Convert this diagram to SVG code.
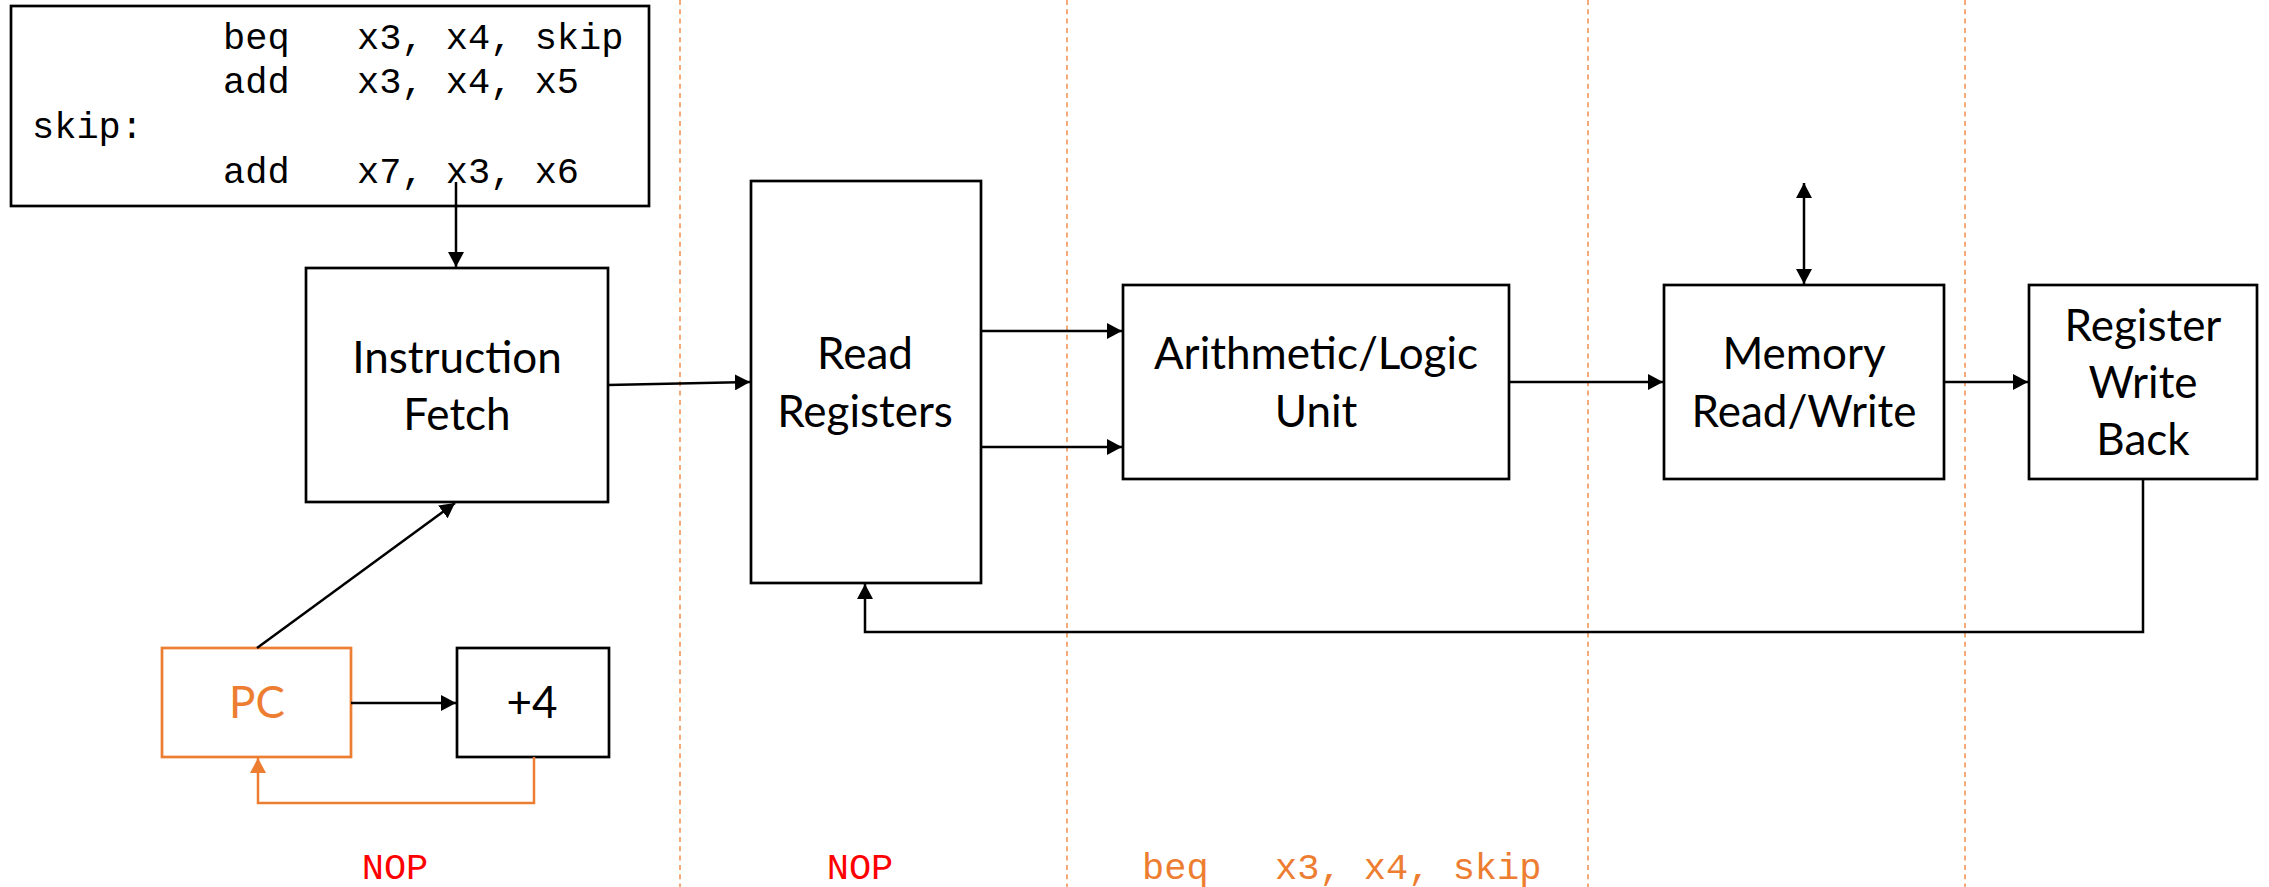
<svg xmlns="http://www.w3.org/2000/svg" width="2269" height="887" viewBox="0 0 2269 887">
  <style>
    .box { fill: #ffffff; stroke: #000000; stroke-width: 2.7; }
    .pcbox { fill: #ffffff; stroke: #ED7D31; stroke-width: 2.7; }
    .lbl { font-family: Lato, "Open Sans", "DejaVu Sans", sans-serif; font-size: 44px; fill: #000000; text-anchor: middle; }
    .code { font-family: "Liberation Mono", "Courier New", monospace; font-size: 37px; fill: #000000; }
    .stage { stroke: #ED7D31; stroke-width: 1.3; stroke-dasharray: 5 4.3; fill: none; }
    .wire { stroke: #000000; stroke-width: 2.5; fill: none; }
    .wire-o { stroke: #ED7D31; stroke-width: 2.5; fill: none; }
  </style>
  <defs>
    <marker id="ah" markerUnits="userSpaceOnUse" markerWidth="16" markerHeight="16" refX="15" refY="8" orient="auto-start-reverse">
      <path d="M0,0 L15,8 L0,16 z" fill="#000000"/>
    </marker>
    <marker id="ah-o" markerUnits="userSpaceOnUse" markerWidth="16" markerHeight="16" refX="15" refY="8" orient="auto">
      <path d="M0,0 L15,8 L0,16 z" fill="#ED7D31"/>
    </marker>
  </defs>

  <rect width="2269" height="887" fill="#ffffff"/>

  <!-- pipeline stage boundaries -->
  <g id="stage-lines">
    <line class="stage" x1="680" y1="0" x2="680" y2="887"/>
    <line class="stage" x1="1067" y1="0" x2="1067" y2="887"/>
    <line class="stage" x1="1588" y1="0" x2="1588" y2="887"/>
    <line class="stage" x1="1965" y1="0" x2="1965" y2="887"/>
  </g>

  <!-- program listing -->
  <g id="program">
    <rect class="box" x="11" y="6" width="638" height="200"/>
    <text class="code" x="223" y="49">beq</text>
    <text class="code" x="357" y="49">x3, x4, skip</text>
    <text class="code" x="223" y="93">add</text>
    <text class="code" x="357" y="93">x3, x4, x5</text>
    <text class="code" x="32" y="138">skip:</text>
    <text class="code" x="223" y="183">add</text>
    <text class="code" x="357" y="183">x7, x3, x6</text>
  </g>

  <g id="instruction-fetch">
    <rect class="box" x="306" y="268" width="302" height="234"/>
    <text class="lbl" x="457" y="373">Instruction</text>
    <text class="lbl" x="457" y="430">Fetch</text>
  </g>

  <g id="pc">
    <rect class="pcbox" x="162" y="648" width="189" height="109"/>
    <text class="lbl" x="257" y="718" style="fill:#ED7D31">PC</text>
  </g>

  <g id="plus4">
    <rect class="box" x="457" y="648" width="152" height="109"/>
    <text class="lbl" x="532" y="718">+4</text>
  </g>

  <g id="read-registers">
    <rect class="box" x="751" y="181" width="230" height="402"/>
    <text class="lbl" x="865" y="369">Read</text>
    <text class="lbl" x="865" y="427">Registers</text>
  </g>

  <g id="alu">
    <rect class="box" x="1123" y="285" width="386" height="194"/>
    <text class="lbl" x="1316" y="369">Arithmetic/Logic</text>
    <text class="lbl" x="1316" y="427">Unit</text>
  </g>

  <g id="memory">
    <rect class="box" x="1664" y="285" width="280" height="194"/>
    <text class="lbl" x="1804" y="369">Memory</text>
    <text class="lbl" x="1804" y="427">Read/Write</text>
  </g>

  <g id="write-back">
    <rect class="box" x="2029" y="285" width="228" height="194"/>
    <text class="lbl" x="2143" y="341">Register</text>
    <text class="lbl" x="2143" y="398">Write</text>
    <text class="lbl" x="2143" y="455">Back</text>
  </g>

  <!-- instructions occupying each stage -->
  <g id="stage-contents">
    <text class="code" x="395" y="879" text-anchor="middle" style="fill:#FF0000">NOP</text>
    <text class="code" x="860" y="879" text-anchor="middle" style="fill:#FF0000">NOP</text>
    <text class="code" x="1142" y="879" style="fill:#ED7D31">beq</text>
    <text class="code" x="1275" y="879" style="fill:#ED7D31">x3, x4, skip</text>
  </g>

  <g id="connectors">
    <line class="wire" x1="456" y1="182" x2="456" y2="267" marker-end="url(#ah)"/>
    <line class="wire" x1="257" y1="648" x2="455" y2="503" marker-end="url(#ah)"/>
    <line class="wire" x1="351" y1="703" x2="456" y2="703" marker-end="url(#ah)"/>
    <polyline class="wire-o" points="534,757 534,803 258,803 258,758" marker-end="url(#ah-o)"/>
    <line class="wire" x1="608" y1="385" x2="750" y2="382" marker-end="url(#ah)"/>
    <line class="wire" x1="981" y1="331" x2="1122" y2="331" marker-end="url(#ah)"/>
    <line class="wire" x1="981" y1="447" x2="1122" y2="447" marker-end="url(#ah)"/>
    <line class="wire" x1="1509" y1="382" x2="1663" y2="382" marker-end="url(#ah)"/>
    <line class="wire" x1="1944" y1="382" x2="2028" y2="382" marker-end="url(#ah)"/>
    <line class="wire" x1="1804" y1="183" x2="1804" y2="284" marker-start="url(#ah)" marker-end="url(#ah)"/>
    <polyline class="wire" points="2143,479 2143,632 865,632 865,584" marker-end="url(#ah)"/>
  </g>
</svg>
